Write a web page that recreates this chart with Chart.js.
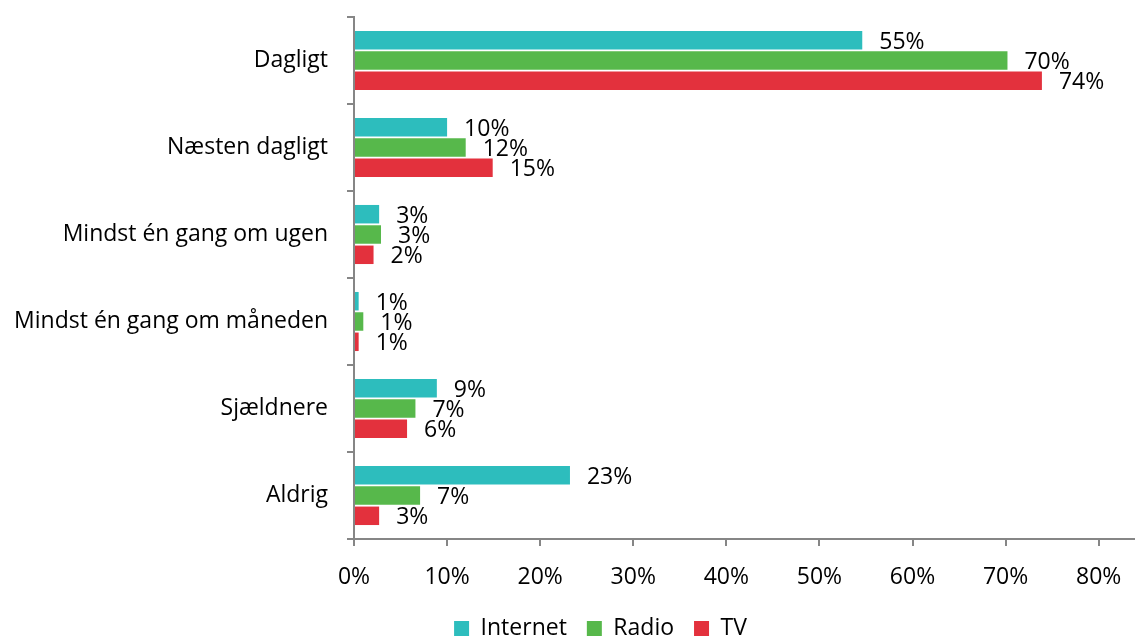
<!DOCTYPE html>
<html>
<head>
<meta charset="utf-8">
<script src="https://cdn.jsdelivr.net/npm/chart.js@4/dist/chart.umd.min.js"></script>
<style>
  html, body { margin: 0; padding: 0; background: #fff; }
  #wrap { width: 1135px; height: 637px; }
</style>
</head>
<body>
<div id="wrap"><canvas id="medieChart" width="1135" height="637"></canvas></div>
<script>
    // kategorier og serier (andel i %)
    var categories = ['Dagligt', 'Næsten dagligt', 'Mindst én gang om ugen', 'Mindst én gang om måneden', 'Sjældnere', 'Aldrig'];
    var internet = [54.6, 10.0, 2.7, 0.5, 8.9, 23.2];
    var radio = [70.2, 12.0, 2.9, 1.0, 6.6, 7.1];
    var tv = [73.9, 14.9, 2.1, 0.5, 5.7, 2.7];
    var seriesNames = ['Internet', 'Radio', 'TV'];
    var tickValues = [0, 10, 20, 30, 40, 50, 60, 70, 80];

    var font = "'Open Sans', 'Noto Sans', sans-serif";

    // etiketter til højre for søjlerne
    var valueLabels = {
        id: 'valueLabels',
        afterDatasetsDraw: function (chart) {
            var ctx = chart.ctx;
            ctx.save();
            ctx.font = '23px ' + font;
            ctx.fillStyle = '#000';
            ctx.textAlign = 'left';
            ctx.textBaseline = 'middle';
            chart.data.datasets.forEach(function (ds, i) {
                chart.getDatasetMeta(i).data.forEach(function (bar, j) {
                    ctx.fillText(Math.round(ds.data[j]) + '%', bar.x + 17, bar.y + 2);
                });
            });
            ctx.restore();
        }
    };

    // forklaringen står lidt til højre for midten
    var shiftLegend = {
        id: 'shiftLegend',
        afterLayout: function (chart) {
            chart.legend.left += 33;
            chart.legend.right += 33;
        }
    };

    var ctx = document.getElementById('medieChart').getContext('2d');
    var medieChart = new Chart(ctx, {
        type: 'bar',
        data: {
            labels: categories,
            datasets: [{
                label: seriesNames[0],
                data: internet,
                backgroundColor: '#2DBDBD'
            }, {
                label: seriesNames[1],
                data: radio,
                backgroundColor: '#57B84B'
            }, {
                label: seriesNames[2],
                data: tv,
                backgroundColor: '#E3313D'
            }]
        },
        options: {
            indexAxis: 'y',
            responsive: false,
            animation: false,
            devicePixelRatio: 1,
            categoryPercentage: 0.7,
            barPercentage: 0.91,
            layout: { padding: { top: 17, right: 0, left: 0, bottom: -13 } },
            plugins: {
                legend: {
                    position: 'bottom',
                    labels: {
                        boxWidth: 15,
                        boxHeight: 15,
                        padding: 20,
                        color: '#000',
                        font: { family: font, size: 23, lineHeight: 1 }
                    }
                },
                tooltip: { enabled: false }
            },
            scales: {
                x: {
                    min: 0,
                    max: 83.9,
                    afterBuildTicks: function (scale) {
                        scale.ticks = tickValues.map(function (v) { return { value: v }; });
                    },
                    afterFit: function (scale) {
                        scale.height = 58;
                        scale.paddingLeft = 0;
                        scale.paddingRight = 0;
                    },
                    border: { color: '#868686', width: 2 },
                    grid: { drawOnChartArea: false, tickLength: 7, color: '#868686', lineWidth: 2 },
                    ticks: {
                        padding: 18,
                        color: '#000',
                        font: { family: font, size: 23 },
                        callback: function (v) { return v + '%'; }
                    }
                },
                y: {
                    afterFit: function (scale) {
                        scale.width = 354;
                        scale.paddingTop = 0;
                        scale.paddingBottom = 0;
                    },
                    border: { color: '#868686', width: 2 },
                    grid: { offset: true, drawOnChartArea: false, tickLength: 7, color: '#868686', lineWidth: 2 },
                    ticks: {
                        padding: 19,
                        color: '#000',
                        font: { family: font, size: 23 }
                    }
                }
            }
        },
        plugins: [valueLabels, shiftLegend]
    });
</script>
</body>
</html>
